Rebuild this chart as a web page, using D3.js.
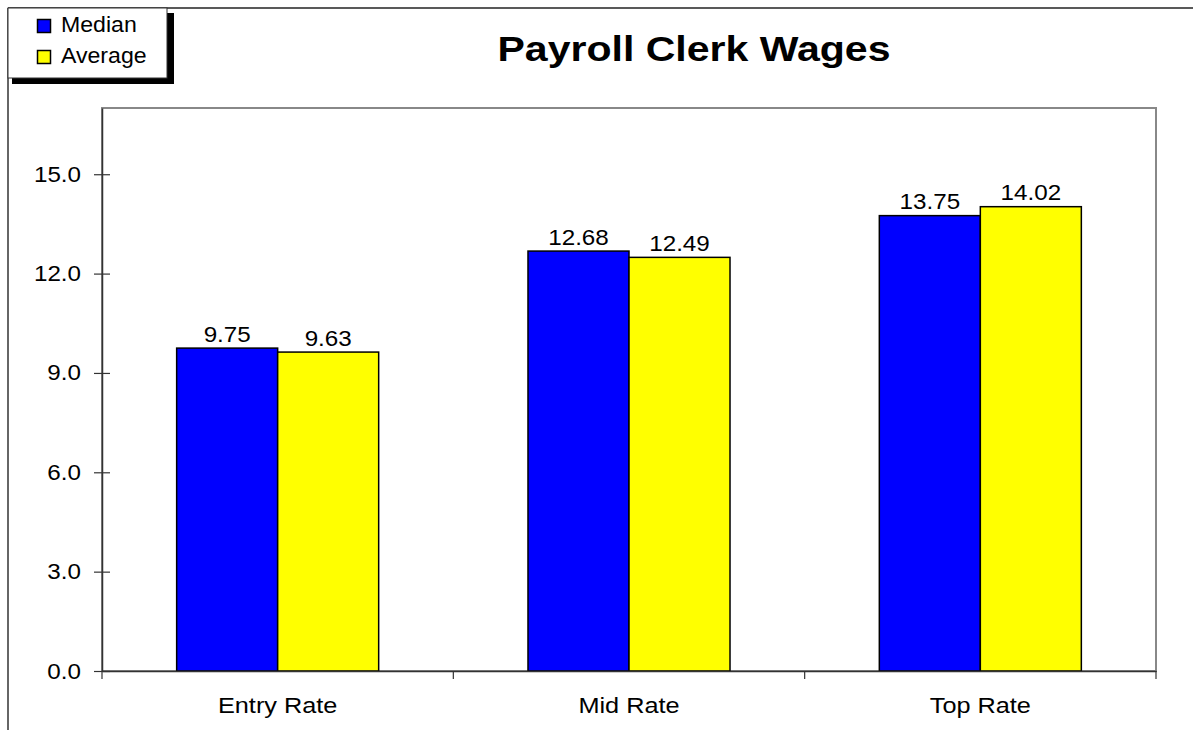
<!DOCTYPE html>
<html>
<head>
<meta charset="utf-8">
<script src="https://cdn.jsdelivr.net/npm/d3@7"></script>
<style>
  body { margin: 0; background: #fff; }
  svg { display: block; font-family: Arial, "Liberation Sans", sans-serif; }
</style>
</head>
<body>
<svg id="chart" width="1193" height="730"></svg>
<script>
const title = "Payroll Clerk Wages";
const categories = ["Entry Rate", "Mid Rate", "Top Rate"];
const seriesNames = ["Median", "Average"];
const medianValues = [9.75, 12.68, 13.75];
const averageValues = [9.63, 12.49, 14.02];
const yTicks = [0, 3, 6, 9, 12, 15];
const colors = ["#0000FF", "#FFFF00"];

const series = [medianValues, averageValues];
const data = categories.map((c, i) => ({cat: c, values: series.map((s, j) => ({name: seriesNames[j], value: s[i], idx: j}))}));

const FS = 22;
const svg = d3.select("#chart");
const W = 1193, H = 730;
const plot = {left: 102, top: 108, right: 1156, bottom: 671};

// outer frame
svg.append("line").attr("x1", 8).attr("y1", 8).attr("x2", W).attr("y2", 8)
  .attr("stroke", "#222").attr("stroke-width", 1.5);
svg.append("line").attr("x1", 8).attr("y1", 8).attr("x2", 8).attr("y2", H)
  .attr("stroke", "#333").attr("stroke-width", 1.5);

const x0 = d3.scaleBand().domain(categories).range([plot.left, plot.right]).paddingInner(0).paddingOuter(0);
const groupW = x0.bandwidth() * 0.575;
const x1 = d3.scaleBand().domain(d3.range(series.length)).range([0, groupW]).padding(0);
const y = d3.scaleLinear().domain([0, 17]).range([plot.bottom, plot.top]);

// plot area border (gray top/right)
svg.append("rect").attr("x", plot.left).attr("y", plot.top)
  .attr("width", plot.right - plot.left).attr("height", plot.bottom - plot.top)
  .attr("fill", "none").attr("stroke", "#888").attr("stroke-width", 2);

// bars
const groups = svg.append("g").selectAll("g").data(data).join("g")
  .attr("transform", d => `translate(${x0(d.cat) + (x0.bandwidth() - groupW) / 2},0)`);
groups.selectAll("rect").data(d => d.values).join("rect")
  .attr("x", d => x1(d.idx))
  .attr("y", d => y(d.value))
  .attr("width", x1.bandwidth())
  .attr("height", d => y(0) - y(d.value))
  .attr("fill", d => colors[d.idx])
  .attr("stroke", "#000").attr("stroke-width", 1.5);
groups.selectAll("text").data(d => d.values).join("text")
  .attr("transform", d => `translate(${x1(d.idx) + x1.bandwidth() / 2},${y(d.value) - 6.5}) scale(1.1,1)`)
  .attr("text-anchor", "middle")
  .attr("font-size", FS)
  .attr("fill", "#000")
  .text(d => d.value.toFixed(2));

// y axis
const yAxis = d3.axisLeft(y).tickValues(yTicks).tickFormat(d3.format(".1f")).tickSize(0);
const gy = svg.append("g").attr("transform", `translate(${plot.left},0)`).call(yAxis);
gy.select(".domain").attr("stroke", "#333").attr("stroke-width", 1.5);
gy.selectAll(".tick text").attr("font-size", FS).attr("fill", "#000")
  .attr("font-family", "Arial, 'Liberation Sans', sans-serif")
  .attr("x", 0).attr("transform", `translate(-21,0) scale(1.1,1)`);
gy.selectAll(".tick").append("line").attr("x1", -8).attr("x2", 8).attr("stroke", "#333").attr("stroke-width", 1.2);

// x axis
const xAxis = d3.axisBottom(x0).tickSize(0);
const gx = svg.append("g").attr("transform", `translate(0,${plot.bottom})`).call(xAxis);
gx.select(".domain").attr("stroke", "#333").attr("stroke-width", 1.5);
gx.selectAll(".tick text").attr("font-size", FS).attr("fill", "#000")
  .attr("font-family", "Arial, 'Liberation Sans', sans-serif")
  .attr("y", 0).attr("dy", null).attr("transform", `translate(0,42) scale(1.15,1)`);
const boundaries = categories.map(c => x0(c)).concat([plot.right]);
gx.selectAll(".bound").data(boundaries).join("line").attr("class", "bound")
  .attr("x1", d => d).attr("x2", d => d).attr("y1", 0).attr("y2", 8)
  .attr("stroke", "#333").attr("stroke-width", 1.2);

// title
svg.append("text").attr("transform", `translate(694,61) scale(1.14,1)`).attr("text-anchor", "middle")
  .attr("font-size", 36).attr("font-weight", "bold").attr("fill", "#000").text(title);

// legend
const lg = svg.append("g");
lg.append("rect").attr("x", 12).attr("y", 13).attr("width", 162).attr("height", 71).attr("fill", "#000");
lg.append("rect").attr("x", 8).attr("y", 8).attr("width", 159).attr("height", 70)
  .attr("fill", "#fff").attr("stroke", "#333").attr("stroke-width", 1);
seriesNames.forEach((n, i) => {
  lg.append("rect").attr("x", 37.5).attr("y", 19.5 + i * 31).attr("width", 13).attr("height", 13)
    .attr("fill", colors[i]).attr("stroke", "#000").attr("stroke-width", 1.5);
  lg.append("text").attr("transform", `translate(61,${32 + i * 31}) scale(1.05,1)`)
    .attr("font-size", FS).attr("fill", "#000").text(n);
});
</script>
</body>
</html>
